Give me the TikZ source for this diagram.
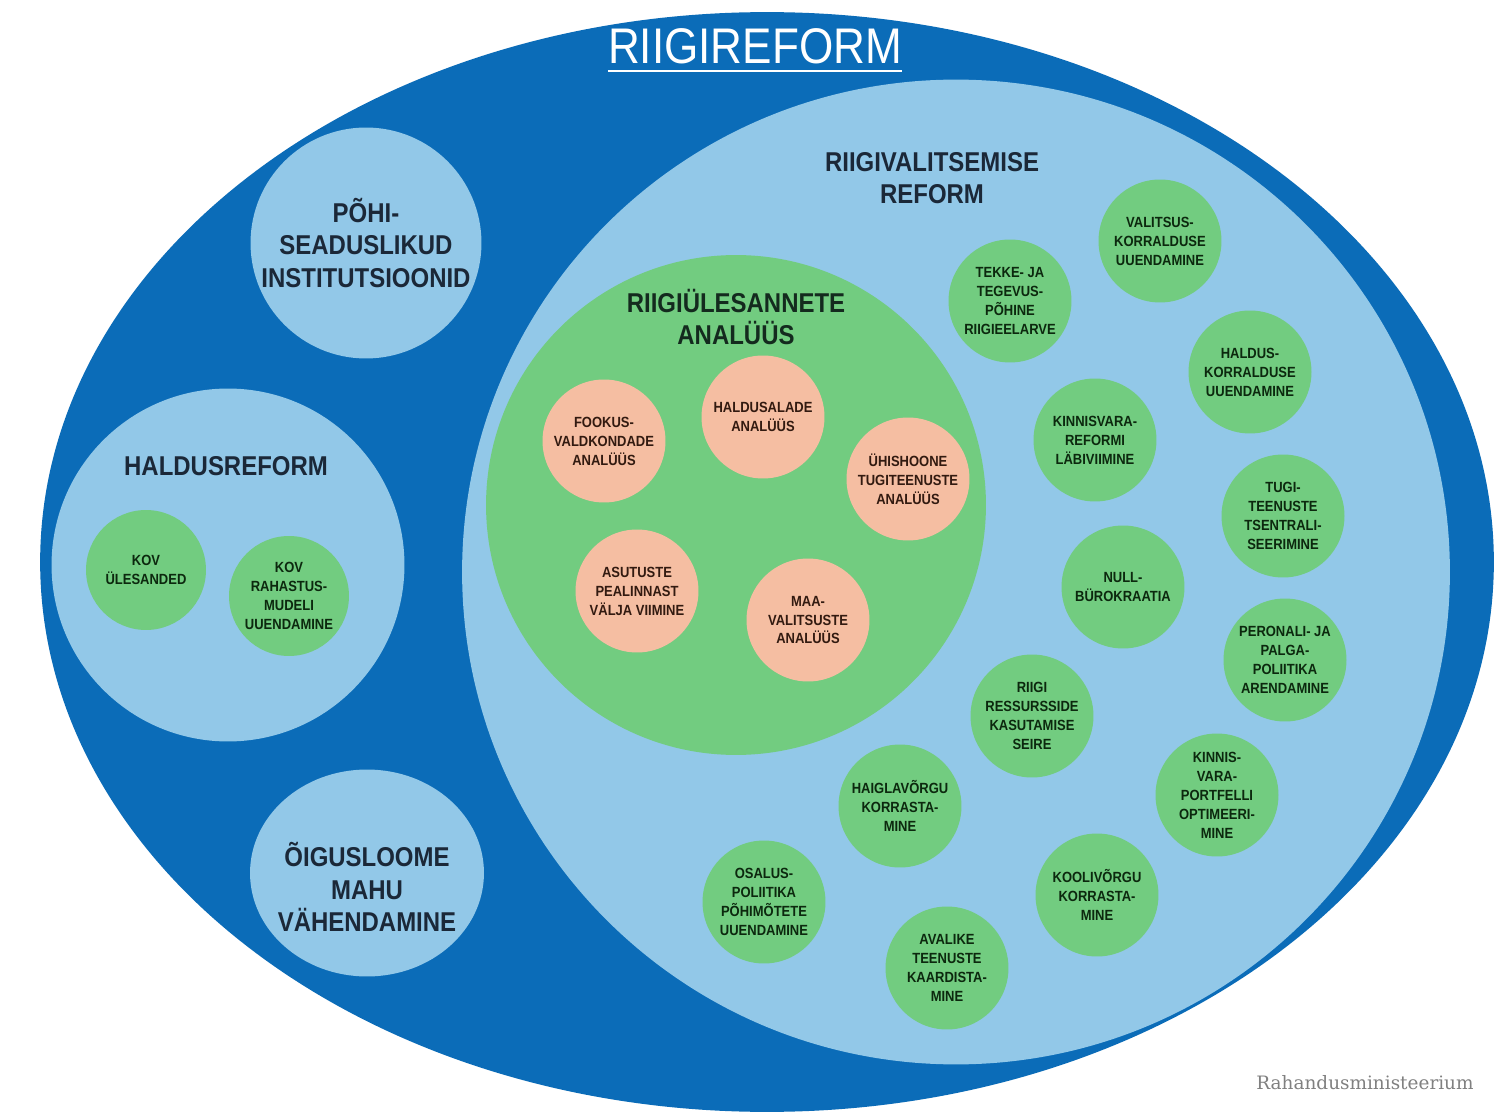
\documentclass[tikz,border=0pt]{standalone}
\usepackage{fontspec}
\setmainfont{Liberation Sans}
\newfontfamily\condfont[FakeStretch=0.88]{Liberation Sans}
\newfontfamily\footfont{DejaVu Serif}
\definecolor{reformblue}{RGB}{11,108,184}
\definecolor{lightblue}{RGB}{146,200,232}
\definecolor{leafgreen}{RGB}{114,204,128}
\definecolor{salmon}{RGB}{245,190,162}
\definecolor{navytext}{RGB}{27,40,56}
\definecolor{headgreen}{RGB}{20,42,30}
\definecolor{greentext}{RGB}{12,40,14}
\definecolor{browntext}{RGB}{50,26,16}
\usetikzlibrary{shapes.geometric}

\begin{document}
\begin{tikzpicture}[x=0.02cm, y=-0.02cm,
    region/.style={ellipse, inner sep=0pt},
    bigcirc/.style={circle, fill=lightblue, inner sep=0pt},
    heading/.style={align=center, inner sep=0pt, text=navytext, font=\condfont\bfseries\fontsize{15.5}{18.4}\selectfont},
    taskcirc/.style={circle, fill=leafgreen, minimum size=2.46cm, inner sep=0pt, align=center, text=greentext, font=\condfont\bfseries\fontsize{8.4}{10.8}\selectfont},
    analcirc/.style={taskcirc, fill=salmon, text=browntext}]
    \useasboundingbox (0,0) rectangle (1495,1118);
    \fill[white] (0,0) rectangle (1495,1118);

    % Riigireform
    \node[region, fill=reformblue, minimum width=29.08cm, minimum height=22cm] (riigireform) at (767,562) {};
    \node[anchor=base, inner sep=0pt, text=white, font=\condfont\fontsize{28.5}{30}\selectfont] (title) at (755,64) {RIIGIREFORM};
    \draw[white, line width=1.6pt] ([yshift=-4pt]title.base west) -- ([yshift=-4pt]title.base east);

    % Riigivalitsemise reform
    \node[region, fill=lightblue, minimum width=19.76cm, minimum height=19.7cm] (valitsemine) at (956,572) {};
    \node[heading] (valitsemiselabel) at (932,178) {RIIGIVALITSEMISE\\REFORM};

    % Left circles
    \node[bigcirc, minimum size=4.62cm, heading] (pohiseadus) at (366,243) {PÕHI-\\SEADUSLIKUD\\INSTITUTSIOONID};
    \node[bigcirc, minimum size=7.06cm] (haldusreform) at (228,565) {};
    \node[heading] (haldusreformlabel) at (226,466) {HALDUSREFORM};
    \node[taskcirc, minimum size=2.4cm] (kovylesanded) at (146,570) {KOV\\ÜLESANDED};
    \node[taskcirc, minimum size=2.4cm] (kovrahastus) at (289,596) {KOV\\RAHASTUS-\\MUDELI\\UUENDAMINE};
    \node[region, fill=lightblue, minimum width=4.68cm, minimum height=4.14cm] (oigusloome) at (367,873) {};
    \node[heading] (oigusloomelabel) at (367,887) {ÕIGUSLOOME\\MAHU\\VÄHENDAMINE};

    % Riigiülesannete analüüs
    \node[circle, fill=leafgreen, minimum size=10cm, inner sep=0pt] (analyys) at (736,505) {};
    \node[heading, text=headgreen] (analyysilabel) at (736,317) {RIIGIÜLESANNETE\\ANALÜÜS};
    \node[analcirc] (fookus) at (604,441) {FOOKUS-\\VALDKONDADE\\ANALÜÜS};
    \node[analcirc] (haldusalade) at (763,417) {HALDUSALADE\\ANALÜÜS};
    \node[analcirc] (yhishoone) at (908,479) {ÜHISHOONE\\TUGITEENUSTE\\ANALÜÜS};
    \node[analcirc] (asutuste) at (637,591) {ASUTUSTE\\PEALINNAST\\VÄLJA VIIMINE};
    \node[analcirc] (maavalitsuste) at (808,620) {MAA-\\VALITSUSTE\\ANALÜÜS};

    % Reform tasks
    \node[taskcirc] (tekke) at (1010,301) {TEKKE- JA\\TEGEVUS-\\PÕHINE\\RIIGIEELARVE};
    \node[taskcirc] (valitsus) at (1160,241) {VALITSUS-\\KORRALDUSE\\UUENDAMINE};
    \node[taskcirc] (haldus) at (1250,372) {HALDUS-\\KORRALDUSE\\UUENDAMINE};
    \node[taskcirc] (kinnisvara) at (1095,440) {KINNISVARA-\\REFORMI\\LÄBIVIIMINE};
    \node[taskcirc] (tugi) at (1283,516) {TUGI-\\TEENUSTE\\TSENTRALI-\\SEERIMINE};
    \node[taskcirc] (null) at (1123,587) {NULL-\\BÜROKRAATIA};
    \node[taskcirc] (personal) at (1285,660) {PERONALI- JA\\PALGA-\\POLIITIKA\\ARENDAMINE};
    \node[taskcirc] (ressursid) at (1032,716) {RIIGI\\RESSURSSIDE\\KASUTAMISE\\SEIRE};
    \node[taskcirc] (haiglavork) at (900,806) {HAIGLAVÕRGU\\KORRASTA-\\MINE};
    \node[taskcirc] (portfell) at (1217,795) {KINNIS-\\VARA-\\PORTFELLI\\OPTIMEERI-\\MINE};
    \node[taskcirc] (osalus) at (764,902) {OSALUS-\\POLIITIKA\\PÕHIMÕTETE\\UUENDAMINE};
    \node[taskcirc] (koolivork) at (1097,895) {KOOLIVÕRGU\\KORRASTA-\\MINE};
    \node[taskcirc] (avalike) at (947,968) {AVALIKE\\TEENUSTE\\KAARDISTA-\\MINE};

    % Footer
    \node[text=gray, font=\footfont\fontsize{10.5}{12}\selectfont] (ministeerium) at (1365,1083) {Rahandusministeerium};
\end{tikzpicture}
\end{document}
